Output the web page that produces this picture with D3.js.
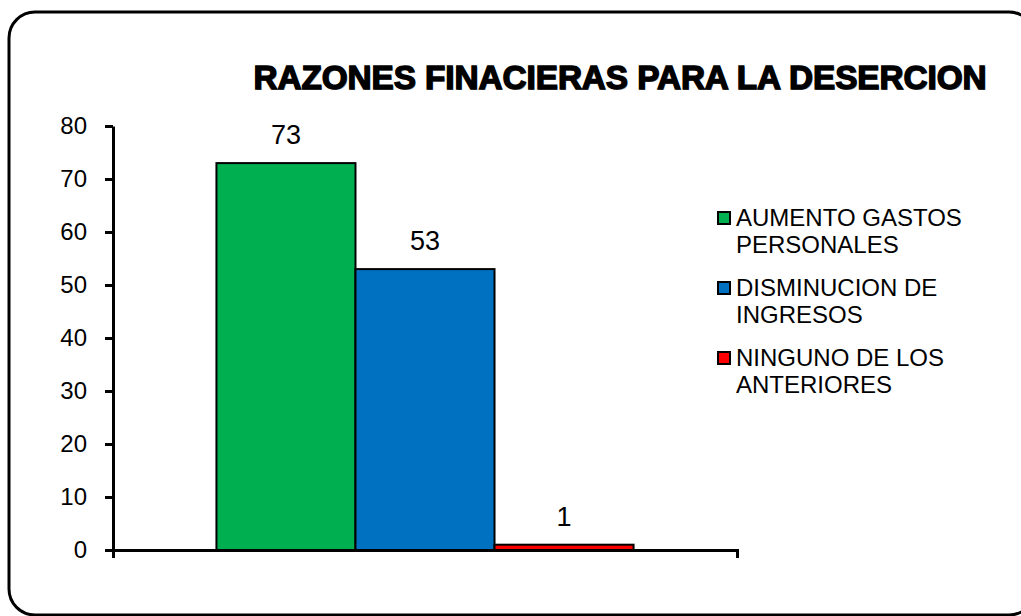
<!DOCTYPE html>
<html>
<head>
<meta charset="utf-8">
<script src="https://cdn.jsdelivr.net/npm/d3@7"></script>
<style>
  body { margin: 0; background: #fff; }
  text { font-family: "Liberation Sans", Arial, sans-serif; }
</style>
</head>
<body>
<svg id="chart"></svg>
<script>
var width = 1021;
var height = 616;

// data
var category = ["Razones"];
var series = ["AUMENTO GASTOS PERSONALES", "DISMINUCION DE INGRESOS", "NINGUNO DE LOS ANTERIORES"];
var legendLines = [["AUMENTO GASTOS", "PERSONALES"], ["DISMINUCION DE", "INGRESOS"], ["NINGUNO DE LOS", "ANTERIORES"]];
var values = [73, 53, 1];
var colors = ["#00B050", "#0070C0", "#FF0000"];
var yTicks = [0, 10, 20, 30, 40, 50, 60, 70, 80];

var svg = d3.select("#chart")
    .attr("width", width)
    .attr("height", height);

// rounded frame
svg.append("rect")
    .attr("x", 9)
    .attr("y", 12)
    .attr("width", 1026)
    .attr("height", 603)
    .attr("rx", 26)
    .attr("fill", "none")
    .attr("stroke", "#000")
    .attr("stroke-width", 3);

var yScale = d3.scaleLinear()
    .domain([0, 80])
    .range([550, 126]);

var x0 = d3.scaleBand()
    .domain(category)
    .range([113, 737])
    .paddingInner(0)
    .paddingOuter(0.248);

var x1 = d3.scaleBand()
    .domain(series)
    .range([0, x0.bandwidth()]);

var colorScale = d3.scaleOrdinal()
    .domain(series)
    .range(colors);

var rows = series.map((s, i) => ({ series: s, value: values[i] }));

// bars
svg.append("g")
    .selectAll("rect")
    .data(rows)
    .enter()
    .append("rect")
    .attr("x", d => x0(category[0]) + x1(d.series))
    .attr("y", d => yScale(d.value))
    .attr("width", x1.bandwidth())
    .attr("height", d => yScale(0) - yScale(d.value))
    .attr("fill", d => colorScale(d.series))
    .attr("stroke", "#000")
    .attr("stroke-width", 2);

// value labels
svg.append("g")
    .selectAll("text")
    .data(rows)
    .enter()
    .append("text")
    .attr("x", d => x0(category[0]) + x1(d.series) + x1.bandwidth() / 2)
    .attr("y", d => yScale(d.value) - 19)
    .attr("text-anchor", "middle")
    .attr("font-size", 27)
    .text(d => d.value);

// axes
var yAxis = d3.axisLeft(yScale)
    .tickValues(yTicks)
    .tickSize(8)
    .tickSizeOuter(0)
    .tickPadding(18);

var xAxis = d3.axisBottom(x0)
    .tickSizeInner(0)
    .tickSizeOuter(8)
    .tickFormat("");

var gy = svg.append("g")
    .attr("transform", "translate(113,0)")
    .call(yAxis);
gy.select(".domain").attr("stroke-width", 3);
gy.selectAll(".tick line").attr("stroke-width", 3);
gy.selectAll(".tick text")
    .attr("font-family", "'Liberation Sans', Arial, sans-serif")
    .attr("font-size", 24)
    .attr("fill", "#000");

var gx = svg.append("g")
    .attr("transform", "translate(0,550)")
    .call(xAxis);
gx.select(".domain").attr("stroke-width", 3);

// title with a faint shadow
var title = "RAZONES FINACIERAS PARA LA DESERCION";
svg.append("text")
    .attr("x", 621)
    .attr("y", 90)
    .attr("text-anchor", "middle")
    .attr("font-size", 33)
    .attr("font-weight", 900)
    .attr("fill", "#999")
    .attr("textLength", 733)
    .attr("lengthAdjust", "spacingAndGlyphs")
    .text(title);
svg.append("text")
    .attr("x", 620)
    .attr("y", 89)
    .attr("text-anchor", "middle")
    .attr("font-size", 33)
    .attr("font-weight", 900)
    .attr("stroke", "#000")
    .attr("stroke-width", 1.4)
    .attr("fill", "#000")
    .attr("textLength", 733)
    .attr("lengthAdjust", "spacingAndGlyphs")
    .text(title);

// legend
var legend = svg.append("g")
    .selectAll("g")
    .data(series)
    .enter()
    .append("g")
    .attr("transform", (d, i) => "translate(717," + (226 + i * 70) + ")");

legend.append("rect")
    .attr("x", 1)
    .attr("y", -14)
    .attr("width", 12)
    .attr("height", 12)
    .attr("fill", d => colorScale(d))
    .attr("stroke", "#000")
    .attr("stroke-width", 2);

legend.append("text")
    .attr("x", 19)
    .attr("y", 0)
    .attr("font-size", 24)
    .selectAll("tspan")
    .data((d, i) => legendLines[i])
    .enter()
    .append("tspan")
    .attr("x", 19)
    .attr("dy", (d, j) => j === 0 ? 0 : 27)
    .text(d => d);
</script>
</body>
</html>
